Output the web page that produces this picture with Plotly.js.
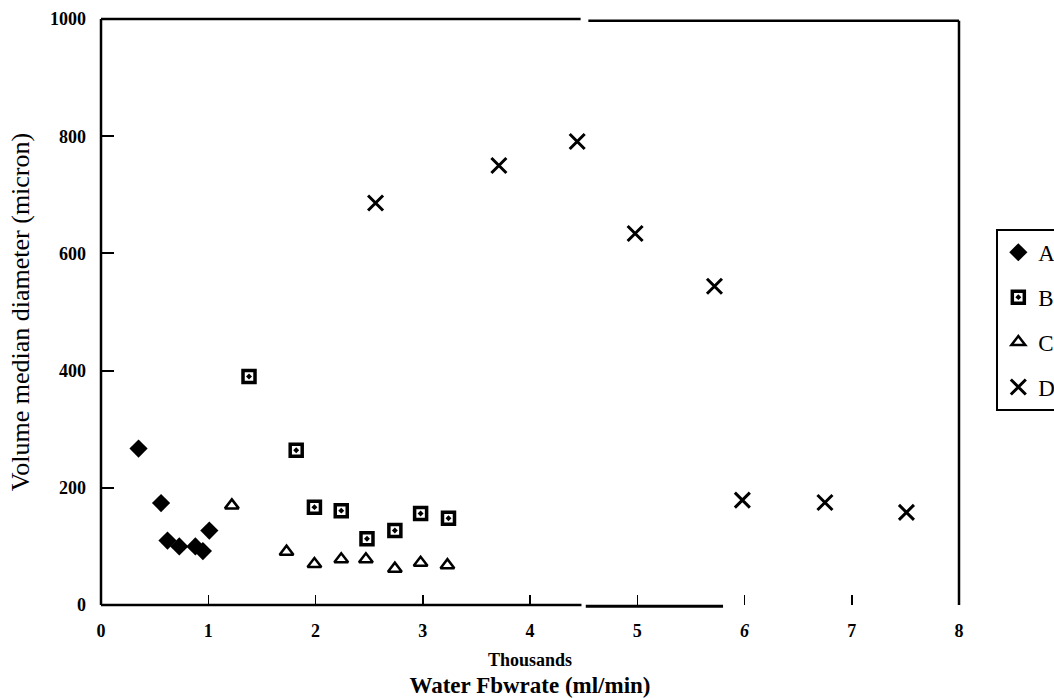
<!DOCTYPE html>
<html>
<head>
<meta charset="utf-8">
<script src="https://cdn.plot.ly/plotly-3.0.1.min.js"></script>
<style>html,body{margin:0;padding:0;background:#fff;}#chart{width:1054px;height:698px;}</style>
</head>
<body>
<div id="chart"></div>
<script>
// Series A
var aX = [0.35, 0.56, 0.62, 0.73, 0.88, 0.95, 1.01];
var aY = [267, 174, 110, 100, 100, 92, 127];
// Series B
var bX = [1.38, 1.82, 1.99, 2.24, 2.48, 2.74, 2.98, 3.24];
var bY = [390, 264, 167, 161, 113, 127, 156, 148];
// Series C
var cX = [1.22, 1.73, 1.99, 2.24, 2.47, 2.74, 2.98, 3.23];
var cY = [170, 91, 70, 78, 78, 62, 72, 68];
// Series D
var dX = [2.56, 3.71, 4.44, 4.98, 5.72, 5.98, 6.75, 7.51];
var dY = [686, 750, 791, 634, 544, 179, 175, 158];

var xTicks = [0, 1, 2, 3, 4, 5, 6, 7, 8];
var xTickText = ['0', '1', '2', '3', '4', '5', '<i>6</i>', '7', '8'];
var yTicks = [0, 200, 400, 600, 800, 1000];
var yTickText = ['0', '200', '400', '600', '800', '1000'];

var serif = 'Liberation Serif, Times New Roman, serif';

var traces = [
  {x: aX, y: aY, name: 'A', type: 'scatter', mode: 'markers', legendgroup: 'a',
   marker: {symbol: 'diamond', size: 14, color: '#000', line: {width: 0}}},
  {x: bX, y: bY, name: 'B', type: 'scatter', mode: 'markers', legendgroup: 'b',
   marker: {symbol: 'square-open-dot', size: 12, color: '#000', line: {width: 3.5, color: '#000'}}},
  {x: cX, y: cY, name: 'C', type: 'scatter', mode: 'markers', legendgroup: 'c',
   marker: {symbol: 'triangle-up-open', size: 12, color: '#000', line: {width: 2.5, color: '#000'}}},
  {x: dX, y: dY, name: 'D', type: 'scatter', mode: 'markers', legendgroup: 'd',
   marker: {symbol: 'x-thin-open', size: 15, color: '#000', line: {width: 3, color: '#000'}}}
];

var lineStyle = {color: '#000', width: 2.5};
var layout = {
  width: 1054, height: 698,
  margin: {l: 101, r: 95, t: 19, b: 93, autoexpand: false},
  paper_bgcolor: '#fff', plot_bgcolor: '#fff',
  font: {family: serif, color: '#000'},
  showlegend: true,
  legend: {
    x: 1.0435, xanchor: 'left', y: 0.642, yanchor: 'top',
    bordercolor: '#000', borderwidth: 2, bgcolor: '#fff',
    font: {family: serif, size: 23, color: '#000'},
    tracegroupgap: 12, traceorder: 'grouped', itemwidth: 30
  },
  xaxis: {
    range: [0, 8], tickmode: 'array', tickvals: xTicks, ticktext: xTickText,
    ticks: 'inside', ticklen: 10, tickwidth: 1.5, tickcolor: '#000',
    showline: false, showgrid: false, zeroline: false, ticklabelstandoff: 13,
    tickfont: {family: serif, size: 18, color: '#000', weight: 'bold'},
    title: {text: 'Water Fbwrate (ml/min)', standoff: 42,
            font: {family: serif, size: 23, color: '#000', weight: 'bold'}}
  },
  yaxis: {
    range: [0, 1000], tickmode: 'array', tickvals: yTicks, ticktext: yTickText,
    ticks: 'inside', ticklen: 13, tickwidth: 2, tickcolor: '#000',
    showline: false, showgrid: false, zeroline: false, ticklabelstandoff: 14,
    tickfont: {family: serif, size: 18, color: '#000', weight: 'bold'},
    title: {text: 'Volume median diameter (micron)', standoff: 12,
            font: {family: serif, size: 26, color: '#000'}}
  },
  annotations: [
    {text: 'Thousands', xref: 'paper', yref: 'paper', x: 0.5, y: -0.094,
     xanchor: 'center', yanchor: 'middle', showarrow: false,
     font: {family: serif, size: 18, color: '#000', weight: 'bold'}}
  ],
  shapes: [
    {type: 'line', xref: 'paper', yref: 'paper', x0: 0, x1: 0, y0: 0, y1: 1, line: lineStyle},
    {type: 'line', xref: 'paper', yref: 'paper', x0: 0, x1: 0.559, y0: 1, y1: 1, line: lineStyle},
    {type: 'line', xref: 'paper', yref: 'paper', x0: 0.568, x1: 1, y0: 0.997, y1: 0.997, line: lineStyle},
    {type: 'line', xref: 'paper', yref: 'paper', x0: 1, x1: 1, y0: 0, y1: 0.997, line: lineStyle},
    {type: 'line', xref: 'paper', yref: 'paper', x0: 0, x1: 0.560, y0: 0, y1: 0, line: lineStyle},
    {type: 'line', xref: 'paper', yref: 'paper', x0: 0.565, x1: 0.725, y0: -0.002, y1: -0.002, line: {color: '#000', width: 3}}
  ]
};

Plotly.newPlot('chart', traces, layout, {displayModeBar: false, staticPlot: true});
</script>
</body>
</html>
